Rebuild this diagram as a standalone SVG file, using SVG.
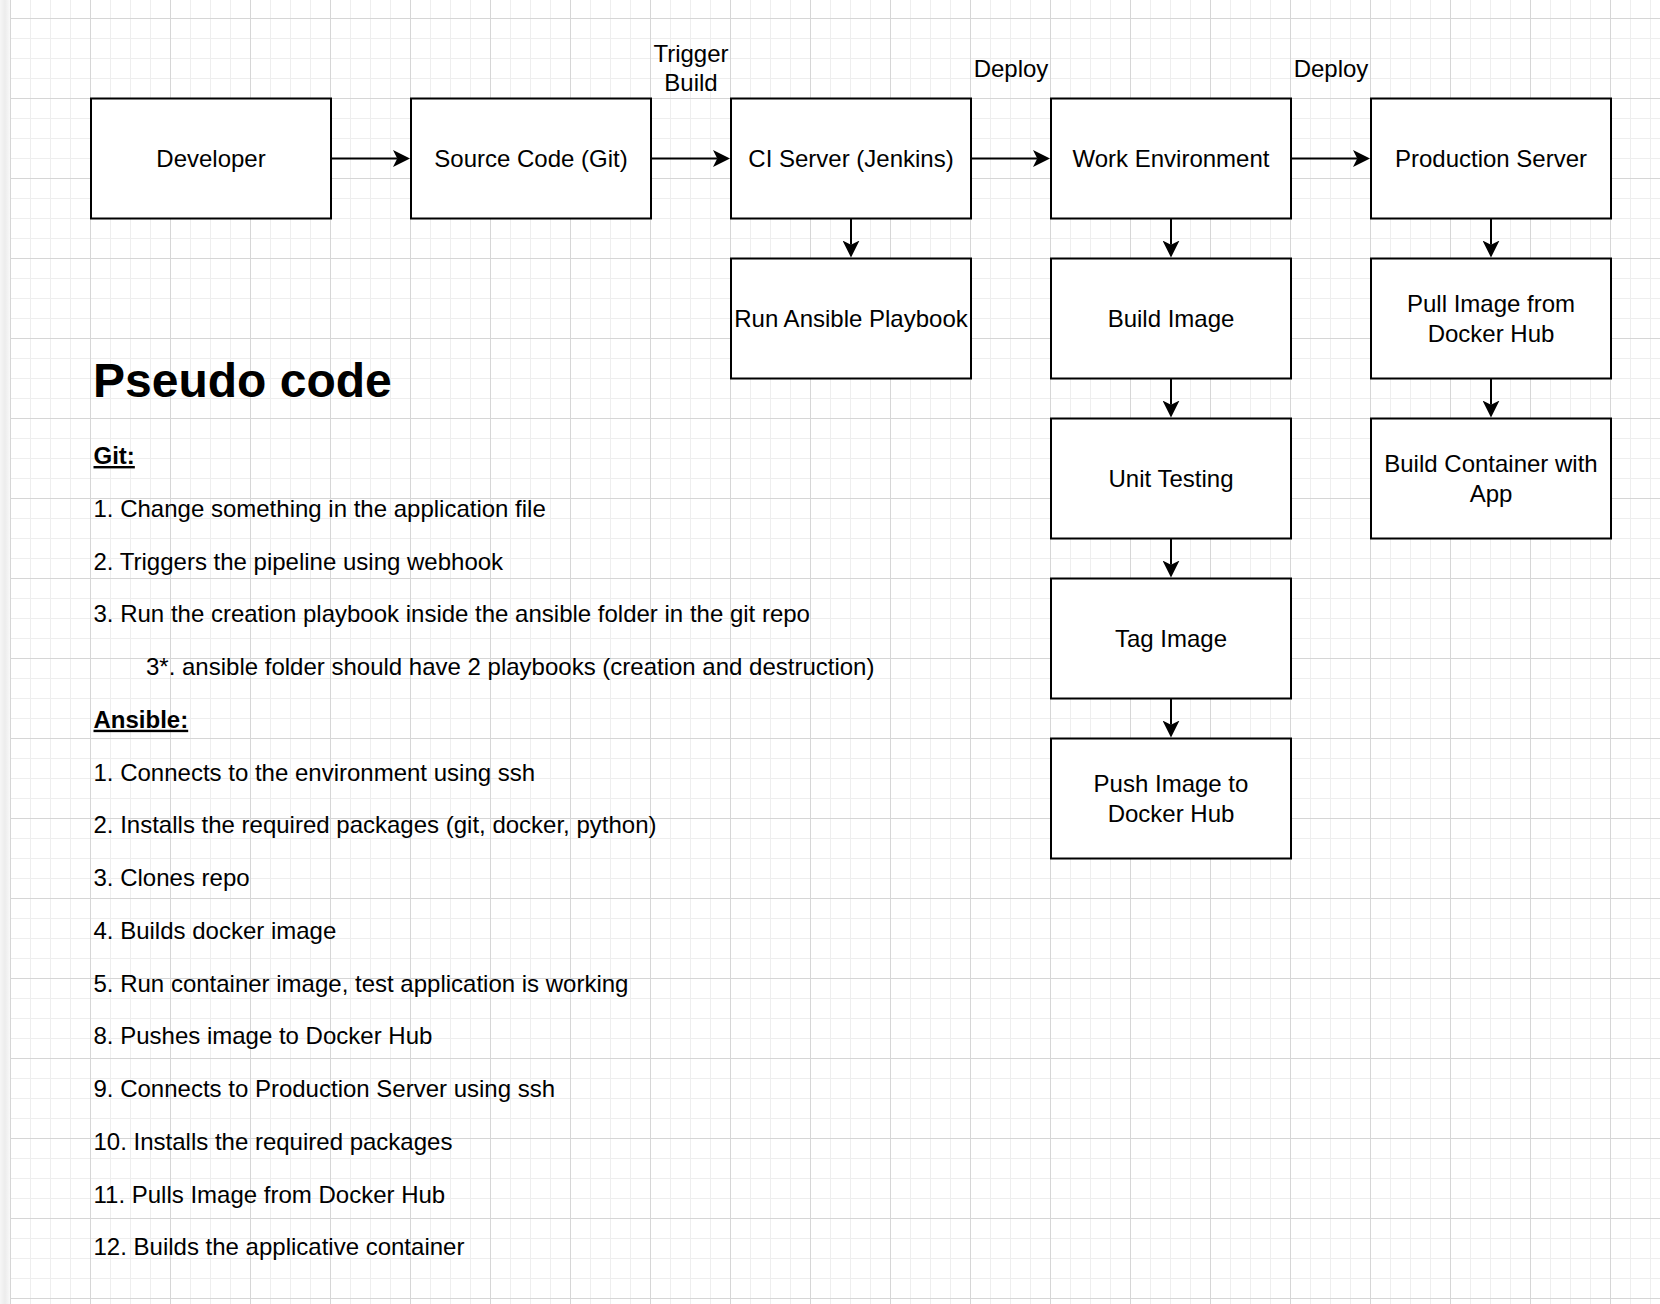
<svg xmlns="http://www.w3.org/2000/svg" width="1660" height="1304" viewBox="0 0 1660 1304">
<style>
.box{fill:#ffffff;stroke:#000000;stroke-width:2}
.lbl{font-family:"Liberation Sans",Arial,Helvetica,sans-serif;font-size:24px;fill:#000000;text-anchor:middle}
.edge{fill:none;stroke:#000000;stroke-width:2}
.elbl{font-family:"Liberation Sans",Arial,Helvetica,sans-serif;font-size:24px;fill:#000000;text-anchor:middle}
.body{font-family:"Liberation Sans",Arial,Helvetica,sans-serif;font-size:24px;fill:#000000}
.h1{font-family:"Liberation Sans",Arial,Helvetica,sans-serif;font-size:48px;font-weight:bold;fill:#000000}
.sec{font-weight:bold;text-decoration:underline}
</style>
<defs>
<pattern id="grid" x="10" y="18" width="80" height="80" patternUnits="userSpaceOnUse">
<rect x="20" y="0" width="1" height="80" fill="#eeeeee"/>
<rect x="40" y="0" width="1" height="80" fill="#eeeeee"/>
<rect x="60" y="0" width="1" height="80" fill="#eeeeee"/>
<rect x="0" y="20" width="80" height="1" fill="#eeeeee"/>
<rect x="0" y="40" width="80" height="1" fill="#eeeeee"/>
<rect x="0" y="60" width="80" height="1" fill="#eeeeee"/>
<rect x="0" y="0" width="1" height="80" fill="#d6d6d6"/>
<rect x="0" y="0" width="80" height="1" fill="#d6d6d6"/>
</pattern>
<linearGradient id="shade" x1="0" y1="0" x2="1" y2="0">
<stop offset="0" stop-color="#f6f6f6"/>
<stop offset="0.5" stop-color="#ececec"/>
<stop offset="1" stop-color="#f9f9f9"/>
</linearGradient>
<marker id="arrow" viewBox="0 0 17 17" refX="4.25" refY="8.5" markerWidth="17" markerHeight="17" markerUnits="userSpaceOnUse" orient="auto">
<path d="M17,8.5 L0,0 L4.25,8.5 L0,17 Z" fill="#000000"/>
</marker>
</defs>
<rect x="0" y="0" width="1660" height="1304" fill="#ffffff"/>
<rect x="10" y="0" width="1650" height="1304" fill="url(#grid)"/>
<rect x="0" y="0" width="10" height="1304" fill="url(#shade)"/>

<g id="connectors">
<path class="edge" d="M331,158.5 H397.25" marker-end="url(#arrow)"/>
<path class="edge" d="M651,158.5 H717.25" marker-end="url(#arrow)"/>
<path class="edge" d="M971,158.5 H1037.25" marker-end="url(#arrow)"/>
<path class="edge" d="M1291,158.5 H1357.25" marker-end="url(#arrow)"/>
<path class="edge" d="M851,218.5 V244.75" marker-end="url(#arrow)"/>
<path class="edge" d="M1171,218.5 V244.75" marker-end="url(#arrow)"/>
<path class="edge" d="M1171,378.5 V404.75" marker-end="url(#arrow)"/>
<path class="edge" d="M1171,538.5 V564.75" marker-end="url(#arrow)"/>
<path class="edge" d="M1171,698.5 V724.75" marker-end="url(#arrow)"/>
<path class="edge" d="M1491,218.5 V244.75" marker-end="url(#arrow)"/>
<path class="edge" d="M1491,378.5 V404.75" marker-end="url(#arrow)"/>
<text class="elbl" x="691" y="62">Trigger</text>
<text class="elbl" x="691" y="90.8">Build</text>
<text class="elbl" x="1011" y="76.7">Deploy</text>
<text class="elbl" x="1331" y="76.7">Deploy</text>
</g>

<g id="developer"><rect class="box" x="91" y="98.5" width="240" height="120"/><text class="lbl" x="211" y="167">Developer</text></g>
<g id="source-code"><rect class="box" x="411" y="98.5" width="240" height="120"/><text class="lbl" x="531" y="167">Source Code (Git)</text></g>
<g id="ci-server"><rect class="box" x="731" y="98.5" width="240" height="120"/><text class="lbl" x="851" y="167">CI Server (Jenkins)</text></g>
<g id="work-environment"><rect class="box" x="1051" y="98.5" width="240" height="120"/><text class="lbl" x="1171" y="167">Work Environment</text></g>
<g id="production-server"><rect class="box" x="1371" y="98.5" width="240" height="120"/><text class="lbl" x="1491" y="167">Production Server</text></g>
<g id="run-ansible"><rect class="box" x="731" y="258.5" width="240" height="120"/><text class="lbl" x="851" y="327">Run Ansible Playbook</text></g>
<g id="build-image"><rect class="box" x="1051" y="258.5" width="240" height="120"/><text class="lbl" x="1171" y="327">Build Image</text></g>
<g id="unit-testing"><rect class="box" x="1051" y="418.5" width="240" height="120"/><text class="lbl" x="1171" y="487">Unit Testing</text></g>
<g id="tag-image"><rect class="box" x="1051" y="578.5" width="240" height="120"/><text class="lbl" x="1171" y="647">Tag Image</text></g>
<g id="push-image"><rect class="box" x="1051" y="738.5" width="240" height="120"/><text class="lbl" x="1171" y="792.2">Push Image to</text><text class="lbl" x="1171" y="821.8">Docker Hub</text></g>
<g id="pull-image"><rect class="box" x="1371" y="258.5" width="240" height="120"/><text class="lbl" x="1491" y="312.2">Pull Image from</text><text class="lbl" x="1491" y="341.8">Docker Hub</text></g>
<g id="build-container"><rect class="box" x="1371" y="418.5" width="240" height="120"/><text class="lbl" x="1491" y="472.2">Build Container with</text><text class="lbl" x="1491" y="501.8">App</text></g>

<g id="pseudo-code">
<text class="h1" x="93" y="397">Pseudo code</text>
<text class="body sec" x="93.5" y="464">Git:</text>
<text class="body" x="93.5" y="516.75">1. Change something in the application file</text>
<text class="body" x="93.5" y="569.5">2. Triggers the pipeline using webhook</text>
<text class="body" x="93.5" y="622.25">3. Run the creation playbook inside the ansible folder in the git repo</text>
<text class="body" x="146" y="675">3*. ansible folder should have 2 playbooks (creation and destruction)</text>
<text class="body sec" x="93.5" y="727.75">Ansible:</text>
<text class="body" x="93.5" y="780.5">1. Connects to the environment using ssh</text>
<text class="body" x="93.5" y="833.25">2. Installs the required packages (git, docker, python)</text>
<text class="body" x="93.5" y="886">3. Clones repo</text>
<text class="body" x="93.5" y="938.75">4. Builds docker image</text>
<text class="body" x="93.5" y="991.5">5. Run container image, test application is working</text>
<text class="body" x="93.5" y="1044.25">8. Pushes image to Docker Hub</text>
<text class="body" x="93.5" y="1097">9. Connects to Production Server using ssh</text>
<text class="body" x="93.5" y="1149.75">10. Installs the required packages</text>
<text class="body" x="93.5" y="1202.5">11. Pulls Image from Docker Hub</text>
<text class="body" x="93.5" y="1255.25">12. Builds the applicative container</text>
</g>
</svg>
